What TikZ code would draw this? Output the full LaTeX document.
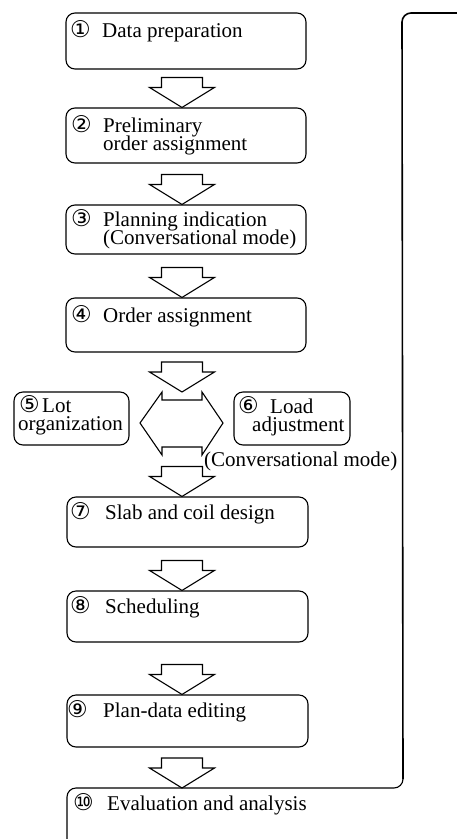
\documentclass[tikz,border=0pt]{standalone}
\usepackage{fontspec}
\setmainfont{Liberation Serif}
\newfontfamily\circfont{DejaVu Sans}
\usetikzlibrary{calc}
\newcommand\cnum[2][30pt]{\makebox[#1][l]{\hspace*{-2pt}\raisebox{-0.8pt}{\circfont\fontsize{23}{23}\selectfont #2}}}
\tikzset{
  box/.style={draw, line width=1.1pt, rounded corners=9pt, inner sep=0pt},
  txt/.style={anchor=base west, inner sep=0pt, font=\fontsize{21}{18}\selectfont},
  blk/.style={draw, line width=1.1pt, line join=miter, fill=white},
  feed/.style={draw, line width=1.6pt, rounded corners=9pt},
  boxline/.style={draw, line width=1.1pt, rounded corners=9pt},
  blockarrow/.pic={\draw[blk] (0,0) -- (-32.5,-20) -- (-20.5,-20) -- (-20.5,-30) -- (20.5,-30) -- (20.5,-20) -- (32.5,-20) -- cycle;}
}
\begin{document}
\begin{tikzpicture}[x=1pt,y=-1pt]
\useasboundingbox (0,0) rectangle (456,839);
% boxes
\node[box, minimum width=240pt, minimum height=56pt] (b1) at (186,41) {};
\node[box, minimum width=240pt, minimum height=55pt] (b2) at (186,135.5) {};
\node[box, minimum width=240pt, minimum height=49pt] (b3) at (186,229.5) {};
\node[box, minimum width=240pt, minimum height=54pt] (b4) at (186,325) {};
\node[box, minimum width=115pt, minimum height=53pt] (b5) at (71.5,418.5) {};
\node[box, minimum width=116pt, minimum height=53pt] (b6) at (292,418.5) {};
\node[box, minimum width=241pt, minimum height=50pt] (b7) at (187.5,522) {};
\node[box, minimum width=241pt, minimum height=51pt] (b8) at (187.5,616.5) {};
\node[box, minimum width=241pt, minimum height=52pt] (b9) at (187.5,721) {};
% box 10 and feedback line
\coordinate (b10nw) at (67,788);
\coordinate (b10ne) at (403,788);
\coordinate (fbtop) at (402,13);
\coordinate (fbend) at (470,13);
\coordinate (b10n) at (186,788);
\draw[boxline] (67,860) -- (b10nw) -- (b10ne) -- (403,770);
\draw[feed] (403,779) -- (fbtop) -- (fbend);
% texts
\node[txt] (t1) at (72,37) {\cnum{①}Data preparation};
\node[txt] (t2a) at (73,132) {\cnum{②}Preliminary};
\node[txt] (t2b) at (103,150) {order assignment};
\node[txt] (t3a) at (73,226) {\cnum{③}Planning indication};
\node[txt] (t3b) at (103,244) {(Conversational mode)};
\node[txt] (t4) at (73,322) {\cnum{④}Order assignment};
\node[txt] (t5a) at (21,412) {\cnum[21pt]{⑤}Lot};
\node[txt] (t5b) at (18,430) {organization};
\node[txt] (t6a) at (240,413) {\cnum[30pt]{⑥}Load};
\node[txt] (t6b) at (252,431) {adjustment};
\node[txt] (conv) at (204,466) {(Conversational mode)};
\node[txt] (t7) at (72,519) {\cnum[33pt]{⑦}Slab and coil design};
\node[txt] (t8) at (72,613) {\cnum[33pt]{⑧}Scheduling};
\node[txt] (t9) at (69,717) {\cnum[34pt]{⑨}Plan-data editing};
\node[txt] (t10) at (75,810) {\cnum[32pt]{⑩}Evaluation and analysis};
% arrows
\coordinate (ax) at (182,0);
\coordinate (hx) at (182,423);
\pic at (ax |- b2.north) {blockarrow};
\pic at (ax |- b3.north) {blockarrow};
\pic at (ax |- b4.north) {blockarrow};
\pic at ($(hx)+(0,-31)$) {blockarrow};
\pic at (ax |- b7.north) {blockarrow};
\pic at (ax |- b8.north) {blockarrow};
\pic at (ax |- b9.north) {blockarrow};
\pic at (ax |- b10n) {blockarrow};
% double-headed block arrow between 5 and 6
\draw[blk] ($(hx)+(-20,-23)$) -- ($(hx)+(-20,-31)$) -- ($(hx)+(-42,0)$) -- ($(hx)+(-20,32)$) -- ($(hx)+(-20,24)$) -- ($(hx)+(20,24)$) -- ($(hx)+(20,32)$) -- ($(hx)+(41,0)$) -- ($(hx)+(20,-31)$) -- ($(hx)+(20,-23)$) -- cycle;
\end{tikzpicture}
\end{document}
